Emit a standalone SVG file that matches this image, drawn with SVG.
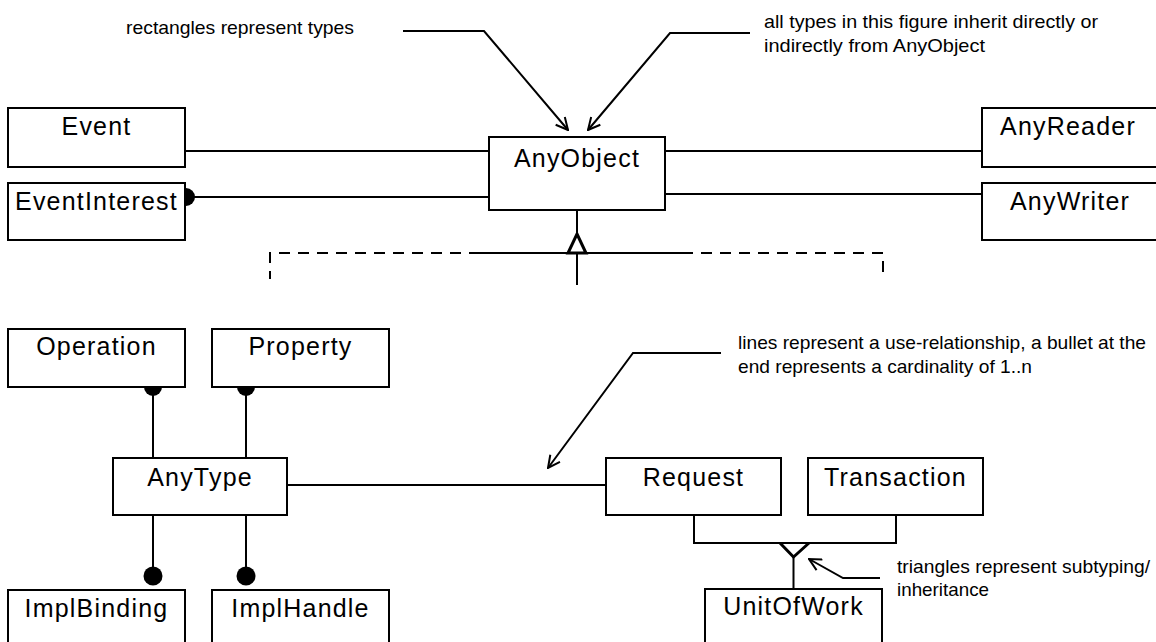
<svg xmlns="http://www.w3.org/2000/svg" width="1156" height="642" viewBox="0 0 1156 642">
<style>
.box{fill:#fff;stroke:#000;stroke-width:2}
.lbl{font-family:"Liberation Sans",Arial,sans-serif;font-size:25px;letter-spacing:1.2px;text-anchor:middle;fill:#000}
.note{font-family:"Liberation Sans",Arial,sans-serif;font-size:19px;fill:#000}
.ln{fill:none;stroke:#000;stroke-width:2}
.dash{fill:none;stroke:#000;stroke-width:2;stroke-dasharray:11 8}
.bul{fill:#000}
.tri{fill:#fff;stroke:#000;stroke-width:3}
</style>
<defs>
<marker id="arr" viewBox="0 0 14 14" refX="13" refY="7" markerWidth="14" markerHeight="14" orient="auto" markerUnits="userSpaceOnUse">
<path d="M1,1 L13,7 L1,13" fill="none" stroke="#000" stroke-width="2"/>
</marker>
</defs>
<rect width="1156" height="642" fill="#fff"/>
<g id="connectors">
<line class="ln" x1="185" y1="151" x2="489" y2="151"/>
<line class="ln" x1="185" y1="197" x2="489" y2="197"/>
<circle class="bul" cx="186" cy="197" r="9"/>
<line class="ln" x1="665" y1="151" x2="982" y2="151"/>
<line class="ln" x1="665" y1="194" x2="982" y2="194"/>
<line class="ln" x1="577" y1="210" x2="577" y2="285"/>
<line class="ln" x1="480" y1="253" x2="682" y2="253"/>
<path class="dash" d="M480,253 H270 V279"/>
<path class="dash" d="M682,253 H883 V279"/>
<polygon class="tri" points="577,234 586,253 568,253"/>
<line class="ln" x1="153" y1="387" x2="153" y2="458"/>
<circle class="bul" cx="153" cy="387" r="9"/>
<line class="ln" x1="246" y1="387" x2="246" y2="458"/>
<circle class="bul" cx="246" cy="387" r="9"/>
<line class="ln" x1="153" y1="515" x2="153" y2="576"/>
<circle class="bul" cx="153" cy="576" r="9.5"/>
<line class="ln" x1="246" y1="515" x2="246" y2="576"/>
<circle class="bul" cx="246" cy="576" r="9.5"/>
<line class="ln" x1="287" y1="485" x2="606" y2="485"/>
<path class="ln" d="M694,515 V543 H896 V515"/>
<polyline class="ln" style="stroke-width:3" points="780,543 793.5,557 809,543"/>
<line class="ln" x1="793.5" y1="557" x2="793.5" y2="589"/>
<polyline class="ln" points="403,31 484,31 568,130" marker-end="url(#arr)"/>
<polyline class="ln" points="750,33 670,33 588,130" marker-end="url(#arr)"/>
<polyline class="ln" points="721,353 633,353 548,468" marker-end="url(#arr)"/>
<polyline class="ln" points="880,578 843,578 809,559" marker-end="url(#arr)"/>
</g>
<g id="node-Event"><rect class="box" x="8" y="108" width="177" height="59"/><text class="lbl" x="96.5" y="135">Event</text></g>
<g id="node-EventInterest"><rect class="box" x="8" y="183" width="177" height="57"/><text class="lbl" x="96.5" y="210">EventInterest</text></g>
<g id="node-AnyObject"><rect class="box" x="489" y="137" width="176" height="73"/><text class="lbl" x="577" y="167">AnyObject</text></g>
<g id="node-AnyReader"><rect class="box" x="982" y="108" width="190" height="59"/><text class="lbl" x="1068" y="135">AnyReader</text></g>
<g id="node-AnyWriter"><rect class="box" x="982" y="183" width="190" height="57"/><text class="lbl" x="1070" y="210">AnyWriter</text></g>
<g id="node-Operation"><rect class="box" x="8" y="329" width="177" height="58"/><text class="lbl" x="96.5" y="355">Operation</text></g>
<g id="node-Property"><rect class="box" x="212" y="329" width="177" height="58"/><text class="lbl" x="300.5" y="355">Property</text></g>
<g id="node-AnyType"><rect class="box" x="113" y="458" width="174" height="57"/><text class="lbl" x="200" y="486">AnyType</text></g>
<g id="node-ImplBinding"><rect class="box" x="8" y="590" width="177" height="70"/><text class="lbl" x="96.5" y="617">ImplBinding</text></g>
<g id="node-ImplHandle"><rect class="box" x="212" y="590" width="177" height="70"/><text class="lbl" x="300.5" y="617">ImplHandle</text></g>
<g id="node-Request"><rect class="box" x="606" y="458" width="175" height="57"/><text class="lbl" x="693.5" y="486">Request</text></g>
<g id="node-Transaction"><rect class="box" x="808" y="458" width="175" height="57"/><text class="lbl" x="895.5" y="486">Transaction</text></g>
<g id="node-UnitOfWork"><rect class="box" x="705" y="589" width="177" height="70"/><text class="lbl" x="793.5" y="615">UnitOfWork</text></g>
<g id="notes">
<text class="note" x="126" y="34" textLength="228" lengthAdjust="spacingAndGlyphs">rectangles represent types</text>
<text class="note" x="764" y="28" textLength="334" lengthAdjust="spacingAndGlyphs">all types in this figure inherit directly or</text>
<text class="note" x="764" y="52" textLength="221" lengthAdjust="spacingAndGlyphs">indirectly from AnyObject</text>
<text class="note" x="738" y="349" textLength="408" lengthAdjust="spacingAndGlyphs">lines represent a use-relationship, a bullet at the</text>
<text class="note" x="738" y="373" textLength="294" lengthAdjust="spacingAndGlyphs">end represents a cardinality of 1..n</text>
<text class="note" x="897" y="573" textLength="253" lengthAdjust="spacingAndGlyphs">triangles represent subtyping/</text>
<text class="note" x="897" y="596" textLength="92" lengthAdjust="spacingAndGlyphs">inheritance</text>
</g>
</svg>
